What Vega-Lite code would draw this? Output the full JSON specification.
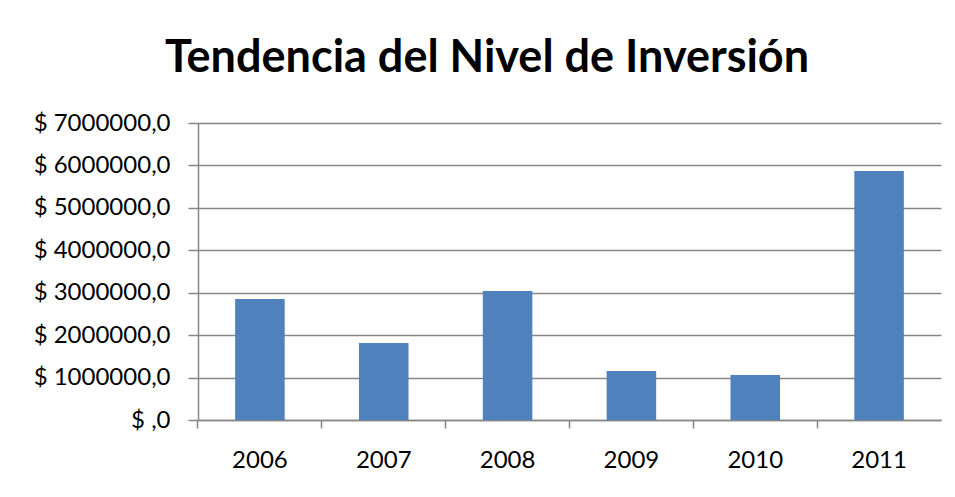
{
  "$schema": "https://vega.github.io/schema/vega-lite/v6.json",
  "autosize": "none",
  "width": 743,
  "height": 297,
  "padding": {"left": 198, "top": 123, "right": 14, "bottom": 77},
  "background": "white",
  "title": {
    "text": "Tendencia del Nivel de Inversión",
    "font": "Lato",
    "fontWeight": "bold",
    "fontSize": 45,
    "color": "#000000",
    "anchor": "middle",
    "frame": "bounds",
    "offset": 30
  },
  "data": {
    "values": [
      {"year": "2006", "value": 2850000},
      {"year": "2007", "value": 1815000},
      {"year": "2008", "value": 3040000},
      {"year": "2009", "value": 1155000},
      {"year": "2010", "value": 1060000},
      {"year": "2011", "value": 5870000}
    ]
  },
  "mark": {"type": "bar", "color": "#4F81BD"},
  "encoding": {
    "x": {
      "field": "year",
      "type": "ordinal",
      "title": null,
      "scale": {"paddingInner": 0.6, "paddingOuter": 0.3},
      "axis": {
        "labelAngle": 0,
        "labelFont": "Lato",
        "labelFontSize": 24,
        "labelColor": "#000000",
        "labelPadding": 20,
        "bandPosition": -0.75,
        "labelOffset": 0,
        "tickSize": 8,
        "tickColor": "#868686",
        "domainColor": "#868686",
        "domainWidth": 1.5,
        "tickWidth": 1.5
      }
    },
    "y": {
      "field": "value",
      "type": "quantitative",
      "title": null,
      "scale": {"domain": [0, 7000000], "nice": false},
      "axis": {
        "values": [0, 1000000, 2000000, 3000000, 4000000, 5000000, 6000000, 7000000],
        "labelExpr": "datum.value == 0 ? '$ ,0' : '$ ' + datum.value + ',0'",
        "labelFont": "Lato",
        "labelFontSize": 24,
        "labelColor": "#000000",
        "labelPadding": 18,
        "tickSize": 10,
        "tickColor": "#868686",
        "domainColor": "#868686",
        "grid": true,
        "gridColor": "#868686",
        "gridWidth": 1.5,
        "domainWidth": 1.5,
        "tickWidth": 1.5
      }
    }
  },
  "config": {"view": {"stroke": null}}
}
